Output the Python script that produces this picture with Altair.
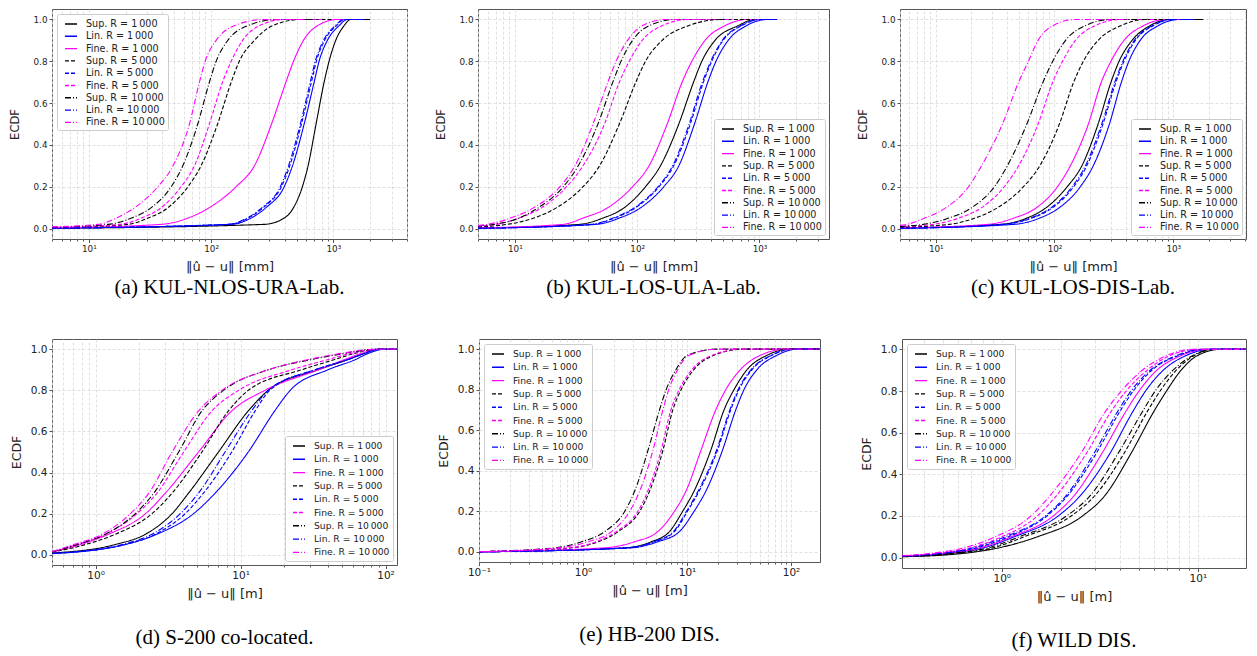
import altair as alt
import pandas as pd

SERIES = ["Sup. R = 1\u2009000", "Lin. R = 1\u2009000", "Fine. R = 1\u2009000",
          "Sup. R = 5\u2009000", "Lin. R = 5\u2009000", "Fine. R = 5\u2009000",
          "Sup. R = 10\u2009000", "Lin. R = 10\u2009000", "Fine. R = 10\u2009000"]
KEYS = ["S1", "L1", "F1", "S5", "L5", "F5", "S10", "L10", "F10"]
COLORS = ["#000000", "#0000ff", "#ff00ff"] * 3
DASHES = [[1, 0]] * 3 + [[4, 2]] * 3 + [[6, 2, 1, 2]] * 3

# ECDF levels at which the error values were read
LEVELS = [0.02, 0.05, 0.1, 0.2, 0.3, 0.5, 0.7, 0.8, 0.9, 0.97, 1.0]
LEVELS_D = [0.05, 0.1, 0.2, 0.3, 0.5, 0.7, 0.8, 0.9, 0.95, 0.98, 1.0]

# (a) KUL-NLOS-URA-Lab. [mm]
A_X = {
    "S1": [272, 396, 472, 558, 621, 722, 840, 922, 1045, 1222, 1384],
    "L1": [146, 212, 281, 396, 463, 577, 696, 764, 893, 1112, 1300],
    "F1": [39.1, 64.6, 96.8, 160, 226, 312, 409, 472, 569, 741, 1079],
    "S5": [20.9, 30.5, 44.4, 64.6, 82.8, 113, 146, 170, 226, 318, 542],
    "L5": [139, 201, 267, 376, 440, 548, 661, 726, 848, 1056, 1240],
    "F5": [17.9, 26.9, 39.1, 56.9, 73.1, 96.8, 124, 146, 181, 248, 396],
    "S10": [14.4, 22.3, 32.4, 47.2, 58.7, 77.8, 96.8, 110, 137, 199, 349],
    "L10": [136, 197, 261, 368, 430, 537, 647, 711, 830, 1035, 1210],
    "F10": [11.9, 16.8, 23.7, 36.7, 48.8, 66.5, 80.3, 89.4, 110, 155, 272],
}
A_START = [0.001, 0.002, 0.003, 0.004, 0.002, 0.005, 0.006, 0.002, 0.008]
A_END = [2000, 1800, 1500, 1000, 1700, 800, 700, 1700, 600]

# (b) KUL-LOS-ULA-Lab. [mm]
B_X = {
    "S1": [34.0, 52.5, 78.5, 117, 155, 219, 289, 338, 433, 668, 912],
    "L1": [46.3, 71.5, 107, 165, 219, 294, 378, 441, 555, 780, 1167],
    "F1": [24.9, 36.1, 57.6, 91.7, 125, 176, 233, 280, 359, 521, 805],
    "S5": [8.67, 14.3, 22.0, 36.1, 49.3, 71.5, 97.5, 117, 160, 263, 490],
    "L5": [43.6, 65.2, 97.5, 151, 199, 272, 348, 407, 505, 711, 1031],
    "F5": [6.98, 10.8, 16.6, 26.5, 36.1, 54.1, 71.5, 86.1, 110, 160, 263],
    "S10": [6.76, 10.8, 15.6, 24.9, 33.0, 47.8, 63.2, 73.8, 91.7, 125, 206],
    "L10": [42.5, 63.5, 95, 148, 195, 266, 341, 400, 497, 700, 1015],
    "F10": [5.97, 9.23, 14.3, 23.4, 31.0, 43.6, 57.6, 67.2, 83.5, 110, 171],
}
B_START = [0.002, 0.001, 0.003, 0.008, 0.001, 0.012, 0.012, 0.001, 0.014]
B_END = [1200, 1400, 1000, 900, 1300, 600, 500, 1300, 400]

# (c) KUL-LOS-DIS-Lab. [mm]
C_X = {
    "S1": [35.3, 58.5, 85.2, 128, 170, 233, 299, 350, 450, 636, 927],
    "L1": [45.5, 75.2, 110, 165, 212, 290, 366, 423, 527, 745, 1119],
    "F1": [27.5, 45.5, 70.6, 106, 136, 193, 248, 299, 385, 561, 871],
    "S5": [12.9, 21.4, 33.2, 54.8, 75.2, 110, 145, 175, 233, 361, 597],
    "L5": [37.7, 64.3, 96.6, 145, 187, 256, 329, 385, 480, 678, 988],
    "F5": [9.45, 15.6, 24.3, 37.7, 49.9, 72.8, 96.6, 117, 150, 219, 361],
    "S10": [7.83, 12.9, 20.1, 31.2, 40.1, 58.5, 80.0, 96.6, 124, 181, 299],
    "L10": [36.5, 62.5, 94, 141, 182, 250, 322, 377, 470, 665, 970],
    "F10": [5.71, 8.07, 12.2, 18.9, 24.3, 36.5, 49.9, 60.3, 72.8, 96.6, 150],
}
C_START = [0.002, 0.001, 0.003, 0.006, 0.001, 0.010, 0.010, 0.001, 0.015]
C_END = [1795, 1500, 1300, 1000, 1400, 700, 600, 1400, 400]

# (d) S-200 co-located. [m]
D_X = {
    "S1": [1.37, 2.21, 3.37, 4.38, 7.04, 11.3, 15.5, 34.3, 55.1, 71.7, 88.6],
    "L1": [1.61, 2.65, 4.74, 6.68, 11.3, 17.2, 22.0, 40.0, 62.0, 76.0, 98.0],
    "F1": [0.789, 1.23, 2.21, 3.03, 5.13, 8.69, 14.7, 34.3, 52.3, 68.1, 88.6],
    "S5": [0.854, 1.37, 2.45, 3.37, 5.41, 8.25, 11.3, 26.3, 44.6, 61.2, 88.6],
    "L5": [1.61, 2.58, 4.15, 5.55, 8.69, 12.6, 15.9, 32.5, 55.1, 71.7, 88.6],
    "F5": [0.748, 1.17, 1.93, 2.65, 4.05, 6.34, 9.67, 22.5, 40.1, 58.1, 88.6],
    "S10": [0.748, 1.17, 1.88, 2.52, 3.74, 5.41, 7.62, 15.5, 30.8, 52.3, 84.0],
    "L10": [1.53, 2.45, 3.84, 5.13, 7.82, 11.9, 15.5, 32.5, 55.1, 71.7, 88.6],
    "F10": [0.710, 1.11, 1.74, 2.33, 3.37, 5.13, 7.42, 15.5, 29.2, 49.6, 84.0],
}
D_START = [0.008, 0.005, 0.013, 0.012, 0.006, 0.014, 0.014, 0.006, 0.015]
D_END = [130] * 9

# (e) HB-200 DIS. [m]
E_X = {
    "S1": [2.52, 4.53, 6.78, 9.09, 11.7, 16.9, 22.7, 28.3, 38.0, 59.0, 98.6],
    "L1": [2.92, 5.25, 8.45, 11.7, 15.2, 21.9, 29.4, 35.3, 47.3, 73.5, 114],
    "F1": [1.62, 3.14, 5.25, 7.57, 9.78, 13.6, 18.9, 23.6, 32.8, 50.9, 91.6],
    "S5": [0.780, 1.40, 2.18, 3.51, 4.37, 5.86, 7.30, 8.77, 11.7, 18.2, 35.3],
    "L5": [2.71, 4.88, 7.57, 10.1, 13.1, 19.6, 26.3, 31.6, 42.4, 65.8, 106],
    "F5": [0.750, 1.34, 2.09, 3.37, 4.20, 5.63, 7.00, 8.42, 11.2, 17.5, 34.0],
    "S10": [0.540, 0.971, 1.62, 2.52, 3.14, 4.21, 5.44, 6.30, 7.85, 10.1, 19.6],
    "L10": [2.65, 4.78, 7.40, 9.90, 12.8, 19.2, 25.8, 31.0, 41.5, 64.5, 104],
    "F10": [0.581, 1.12, 1.88, 2.81, 3.51, 4.70, 5.86, 6.68, 8.15, 10.5, 19.6],
}
E_START = [0.0, 0.0, 0.0, 0.001, 0.0, 0.001, 0.001, 0.0, 0.001]
E_END = [200] * 9

# (f) WILD DIS. [m]
F_X = {
    "S1": [0.634, 1.00, 1.52, 2.58, 3.37, 4.56, 5.95, 6.92, 8.21, 9.93, 13.0],
    "L1": [0.525, 0.827, 1.16, 1.94, 2.53, 3.56, 4.65, 5.41, 6.66, 8.69, 11.5],
    "F1": [0.505, 0.796, 1.12, 1.83, 2.35, 3.24, 4.28, 5.01, 6.18, 8.21, 11.0],
    "S5": [0.577, 0.927, 1.30, 2.26, 3.00, 4.20, 5.51, 6.42, 7.76, 9.55, 12.2],
    "L5": [0.486, 0.767, 1.08, 1.70, 2.18, 3.03, 3.99, 4.68, 5.83, 7.91, 10.7],
    "F5": [0.459, 0.711, 1.00, 1.52, 1.91, 2.70, 3.60, 4.31, 5.51, 7.19, 10.0],
    "S10": [0.556, 0.876, 1.23, 2.14, 2.84, 3.92, 5.21, 6.06, 7.47, 9.38, 12.0],
    "L10": [0.486, 0.738, 1.04, 1.67, 2.14, 2.95, 3.89, 4.56, 5.72, 7.76, 10.5],
    "F10": [0.434, 0.659, 0.927, 1.41, 1.77, 2.53, 3.37, 4.07, 5.21, 6.92, 9.40],
}
F_START = [0.004, 0.006, 0.006, 0.005, 0.007, 0.008, 0.005, 0.007, 0.009]
F_END = [19] * 9

Y_TICKS = [0.0, 0.2, 0.4, 0.6, 0.8, 1.0]
LABEL_EXPR = ("datum.value < 0.5 ? '10\u207b\u00b9' : datum.value < 5 ? '10\u2070' : "
              "datum.value < 50 ? '10\u00b9' : datum.value < 500 ? '10\u00b2' : '10\u00b3'")


def build_df(levels, xs, starts, ends, xmin):
    rows = []
    for i, (key, name) in enumerate(zip(KEYS, SERIES)):
        pts = [(xmin, starts[i])] + list(zip(xs[key], levels)) + [(ends[i], 1.0)]
        for k, (x, y) in enumerate(pts):
            rows.append({"series": name, "x": x, "y": y, "k": k, "s": i})
    return pd.DataFrame(rows)


def panel(levels, xs, starts, ends, xdom, w, h, unit, caption, orient, st):
    df = build_df(levels, xs, starts, ends, xdom[0])
    xscale = alt.Scale(type="log", domain=xdom, nice=False, zero=False)
    yscale = alt.Scale(domain=[-0.05, 1.05], nice=False, zero=False)
    majors = [v for v in [0.1, 1, 10, 100, 1000] if xdom[0] <= v <= xdom[1]]
    minors = []
    for e in range(-2, 4):
        for m in range(2, 10):
            v = round(m * 10 ** e, 6)
            if xdom[0] <= v <= xdom[1]:
                minors.append(v)
    grid = dict(grid=True, gridColor="#d8d8d8", gridDash=[3, 2], gridWidth=0.8)
    base = alt.Chart(df)
    minor_layer = base.mark_point(opacity=0, clip=True, size=1).encode(
        x=alt.X("x:Q", scale=xscale, axis=alt.Axis(
            values=minors, labels=False, tickSize=2, tickColor="#555", title=None,
            orient="bottom", domain=False, **grid)),
    )
    leg = dict(title=None, orient=orient, offset=st["loff"] if orient == "top-left" else 4,
               labelFontSize=st["leg"])
    lines = base.mark_line(clip=True, strokeWidth=1.1, interpolate="monotone").encode(
        x=alt.X("x:Q", scale=xscale, axis=alt.Axis(
            values=majors, labelExpr=LABEL_EXPR, tickSize=3.5, tickColor="#555",
            labelFontSize=st["tick"], labelPadding=2, labelFlush=False,
            title="\u2016u\u0302 \u2212 u\u2016 [" + unit + "]", titleFontSize=st["xtitle"],
            titlePadding=st["xtp"], orient="bottom", domain=False, **grid)),
        y=alt.Y("y:Q", scale=yscale, axis=alt.Axis(
            values=Y_TICKS, format=".1f", tickSize=3, tickColor="#555",
            labelFontSize=st["tick"], labelPadding=2, title="ECDF",
            titleFontSize=st["ytitle"], titlePadding=st["ytp"], domain=False, **grid)),
        color=alt.Color("series:N", scale=alt.Scale(domain=SERIES, range=COLORS),
                        legend=alt.Legend(**leg)),
        strokeDash=alt.StrokeDash("series:N", scale=alt.Scale(domain=SERIES, range=DASHES),
                                  legend=alt.Legend(**leg)),
        order="k:Q",
    )
    return alt.layer(minor_layer, lines).resolve_axis(x="independent").properties(
        width=w, height=h,
        title=alt.TitleParams(caption, orient="bottom", anchor="middle", frame="group",
                              font="Liberation Serif", fontSize=st["cap"],
                              fontWeight="normal", offset=st["capoff"], color="#000"),
    )


ST1 = dict(tick=8.8, xtitle=13, ytitle=11.5, xtp=7, ytp=13, cap=21, capoff=4, loff=5, leg=9.6)
ST2 = dict(tick=10.5, xtitle=13, ytitle=12.5, xtp=6, ytp=7, cap=21, capoff=27, loff=5, leg=9.2)

pa = panel(LEVELS, A_X, A_START, A_END, [5, 4000], 355, 230, "mm", "(a)  KUL-NLOS-URA-Lab.", "top-left", ST1)
pb = panel(LEVELS, B_X, B_START, B_END, [5, 3700], 351, 230, "mm", "(b)  KUL-LOS-ULA-Lab.", "bottom-right", ST1)
pc = panel(LEVELS, C_X, C_START, C_END, [5, 4100], 346, 230, "mm", "(c)  KUL-LOS-DIS-Lab.", "bottom-right", ST1)
pd_ = panel(LEVELS_D, D_X, D_START, D_END, [0.5, 120], 345, 226, "m", "(d)  S-200 co-located.", "bottom-right", ST2)
pe = panel(LEVELS, E_X, E_START, E_END, [0.1, 190], 341, 223, "m", "(e)  HB-200 DIS.", "top-left", ST2)
pf = panel(LEVELS, F_X, F_START, F_END, [0.31, 17.6], 344, 229, "m", "(f)  WILD DIS.", "top-left", ST2)

RES = dict(color="independent", strokeDash="independent")
row1 = alt.hconcat(pa, pb, pc, spacing=26).resolve_scale(**RES).resolve_legend(**RES)
row2 = alt.hconcat(pd_, pe, pf, spacing=38).resolve_scale(**RES).resolve_legend(**RES)

chart = alt.vconcat(row1, row2, spacing=39).resolve_scale(**RES).resolve_legend(**RES).properties(
    padding=0
).configure_view(
    stroke="#555", strokeWidth=1
).configure_axis(
    labelFont="DejaVu Sans", titleFont="DejaVu Sans", labelColor="#222", titleColor="#222",
    titleFontWeight="normal"
).configure_legend(
    labelFont="DejaVu Sans", labelColor="#222", symbolType="stroke",
    symbolSize=144, symbolStrokeWidth=1.4, rowPadding=0.3, padding=3, labelOffset=8,
    symbolOffset=4, fillColor="white", strokeColor="#cccccc", cornerRadius=2
)

chart.save("out.html", embed_options={"renderer": "svg", "actions": False})
